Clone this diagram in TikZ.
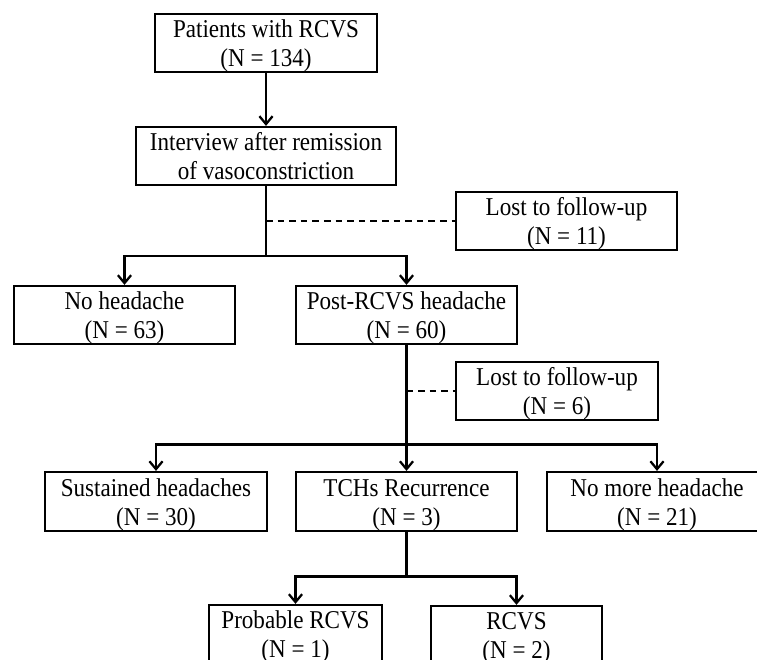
\documentclass[tikz,border=0pt]{standalone}
\usepackage{fontspec}
\setmainfont{Liberation Serif}[FakeStretch=0.9]
\usetikzlibrary{arrows.meta}
\begin{document}
\begin{tikzpicture}[x=0.02cm,y=-0.02cm,
  box/.style={draw,line width=1.4pt,inner xsep=0pt,inner ysep=0pt,align=center,
    text height=29.9pt,text depth=3pt,font=\fontsize{14.6}{16.6}\selectfont},
  conn/.style={line width=1.5pt},
  arr/.style={conn,-{Straight Barb[length=4.5pt,width=7.5pt,line width=1.3pt]}},
  lostline/.style={line width=1.4pt,dash pattern=on 3.8pt off 2.8pt}]
\useasboundingbox (0,0) rectangle (757,659);
\clip (0,0) rectangle (757,659);
\fill[white] (0,0) rectangle (757,659);

\node[box,minimum width=222*0.02cm] (b1) at (266,43) {Patients with RCVS\\(N = 134)};
\node[box,minimum width=260*0.02cm] (b2) at (266,156) {Interview after remission\\of vasoconstriction};
\node[box,minimum width=221*0.02cm] (lost1) at (566.5,221) {Lost to follow-up\\(N = 11)};
\node[box,minimum width=221*0.02cm] (nohead) at (124.5,315) {No headache\\(N = 63)};
\node[box,minimum width=221*0.02cm] (post) at (406.5,315) {Post-RCVS headache\\(N = 60)};
\node[box,minimum width=202*0.02cm] (lost2) at (557,391) {Lost to follow-up\\(N = 6)};
\node[box,minimum width=222*0.02cm,text height=30.4pt] (sust) at (156,501.5) {Sustained headaches\\(N = 30)};
\node[box,minimum width=221*0.02cm,text height=30.4pt] (tchs) at (406.5,501.5) {TCHs Recurrence\\(N = 3)};
\node[box,minimum width=220*0.02cm,text height=30.4pt] (nomore) at (657,501.5) {No more headache\\(N = 21)};
\node[box,minimum width=173*0.02cm] (prob) at (295.5,634) {Probable RCVS\\(N = 1)};
\node[box,minimum width=171*0.02cm] (rcvs) at (516.5,635) {RCVS\\(N = 2)};

\coordinate (j1) at (266,256);
\coordinate (j2) at (406.5,444.5);
\coordinate (j3) at (406.5,576.5);

\draw[arr] (b1.south) -- (b2.north);
\draw[conn] (b2.south) -- (j1);
\draw[arr] (j1) -| (nohead.north);
\draw[arr] (j1) -| (post.north);
\draw[lostline] (lost1.west -| b2.south) -- (lost1.west);

\draw[conn] (post.south) -- (j2);
\draw[arr] (j2) -| (sust.north);
\draw[arr] (j2) -- (tchs.north);
\draw[arr] (j2) -| (nomore.north);
\draw[lostline] (lost2.west -| post.south) -- (lost2.west);

\draw[conn] (tchs.south) -- (j3);
\draw[arr] (j3) -| (prob.north);
\draw[arr] (j3) -| (rcvs.north);
\end{tikzpicture}
\end{document}
